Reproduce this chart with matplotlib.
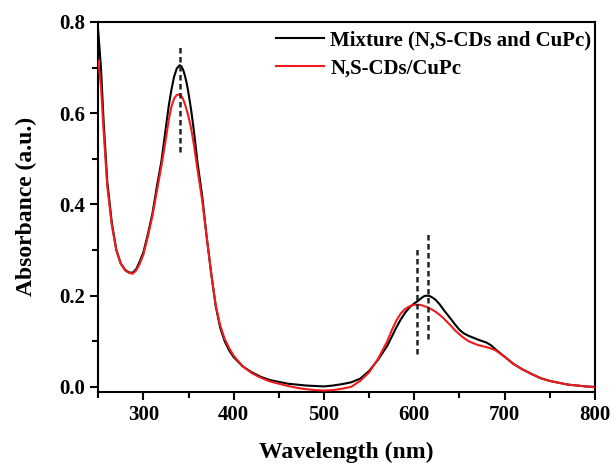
import numpy as np
import matplotlib
matplotlib.use('Agg')
from matplotlib import pyplot as plt
from matplotlib.ticker import MultipleLocator

# wavelength (nm) and absorbance values
wavelength = [250, 253, 256, 260, 265, 270, 275, 280, 284, 288, 292, 296, 300, 305, 310, 315, 320,
              325, 328, 331, 334, 337, 340, 342, 344, 346, 348, 350, 353, 356, 360, 365, 370, 375, 380,
              385, 390, 395, 400, 410, 420, 430, 440, 450, 460, 470, 480, 490, 500, 510, 520, 530, 540,
              550, 560, 570, 575, 580, 585, 590, 595, 600, 605, 608, 611, 614, 617, 620, 624, 628, 632,
              636, 640, 645, 650, 655, 660, 670, 680, 685, 690, 700, 710, 720, 730, 740, 750, 760, 770,
              780, 790, 800]

mixture = [0.78, 0.70, 0.58, 0.45, 0.36, 0.30, 0.27, 0.256, 0.251, 0.25, 0.258, 0.275, 0.295, 0.335, 0.38, 0.44, 0.495,
           0.57, 0.615, 0.651, 0.68, 0.698, 0.705, 0.703, 0.695, 0.682, 0.665, 0.643, 0.605, 0.56, 0.49, 0.42, 0.33, 0.25, 0.178,
           0.13, 0.10, 0.08, 0.065, 0.045, 0.032, 0.022, 0.015, 0.011, 0.007, 0.005, 0.003, 0.002, 0.001, 0.003, 0.006, 0.010, 0.018,
           0.035, 0.060, 0.090, 0.110, 0.130, 0.148, 0.163, 0.175, 0.183, 0.190, 0.195, 0.199, 0.200, 0.199, 0.196, 0.190, 0.181, 0.170,
           0.160, 0.150, 0.137, 0.125, 0.117, 0.112, 0.104, 0.097, 0.091, 0.082, 0.066, 0.050, 0.038, 0.028, 0.019, 0.013, 0.009, 0.005,
           0.003, 0.001, 0.000]

composite = [0.715, 0.66, 0.56, 0.44, 0.355, 0.30, 0.27, 0.255, 0.25, 0.248, 0.255, 0.27, 0.29, 0.33, 0.375, 0.43, 0.485,
             0.545, 0.585, 0.614, 0.632, 0.64, 0.641, 0.638, 0.630, 0.620, 0.606, 0.592, 0.565, 0.53, 0.475, 0.41, 0.33, 0.25, 0.18,
             0.135, 0.105, 0.085, 0.068, 0.045, 0.030, 0.020, 0.012, 0.007, 0.002, -0.002, -0.005, -0.007, -0.008, -0.007, -0.004, 0.000, 0.013,
             0.032, 0.062, 0.100, 0.124, 0.145, 0.161, 0.171, 0.177, 0.180, 0.180, 0.179, 0.177, 0.175, 0.172, 0.169, 0.164, 0.158, 0.151,
             0.143, 0.135, 0.124, 0.115, 0.107, 0.100, 0.092, 0.087, 0.084, 0.080, 0.066, 0.050, 0.038, 0.028, 0.019, 0.013, 0.009, 0.005,
             0.003, 0.001, -0.001]

labels = ['Mixture (N,S-CDs and CuPc)', 'N,S-CDs/CuPc']

# dashed peak markers: x, y start, y end
peak_x = [340.6, 603.3, 615.4]
peak_lo = [0.515, 0.072, 0.106]
peak_hi = [0.752, 0.307, 0.340]

plt.rcParams['font.family'] = ['Liberation Serif', 'DejaVu Serif']
plt.rcParams['font.weight'] = 'bold'

fig = plt.figure(figsize=(6.14, 4.66), dpi=100)
ax = fig.add_axes([0.160, 0.159, 0.809, 0.794])

ax.plot(wavelength, mixture, color='black', lw=1.5, label=labels[0], zorder=3,
        solid_joinstyle='round')
ax.plot(wavelength, composite, color='#ee1c1c', lw=1.5, label=labels[1], zorder=3,
        solid_joinstyle='round')
for x, lo, hi in zip(peak_x, peak_lo, peak_hi):
    ax.plot([x, x], [lo, hi], color='#222222', lw=1.8, ls=(0, (2.2, 1.4)), zorder=4)

ax.set_xlim(250, 800)
ax.set_ylim(-0.011, 0.8)
ax.xaxis.set_major_locator(MultipleLocator(100))
ax.xaxis.set_minor_locator(MultipleLocator(50))
ax.yaxis.set_major_locator(MultipleLocator(0.2))
ax.yaxis.set_minor_locator(MultipleLocator(0.1))
ax.yaxis.set_major_formatter(plt.FuncFormatter(lambda v, p: '{:.1f}'.format(v)))
ax.tick_params(which='both', direction='out', width=1.5, labelsize=15, top=False, right=False)
ax.tick_params(which='major', length=6)
ax.tick_params(which='minor', length=4)
for s in ax.spines.values():
    s.set_linewidth(1.5)

ax.set_xlabel('Wavelength (nm)', fontsize=17, fontweight='bold', labelpad=12)
ax.set_ylabel('Absorbance (a.u.)', fontsize=17, fontweight='bold', labelpad=16)

ax.legend(loc='upper right', frameon=False, fontsize=15, handlelength=2.3, handletextpad=0.3,
          labelspacing=0.4, borderaxespad=0.0, bbox_to_anchor=(1.01, 1.0))

fig.savefig('out.png', dpi=100)
